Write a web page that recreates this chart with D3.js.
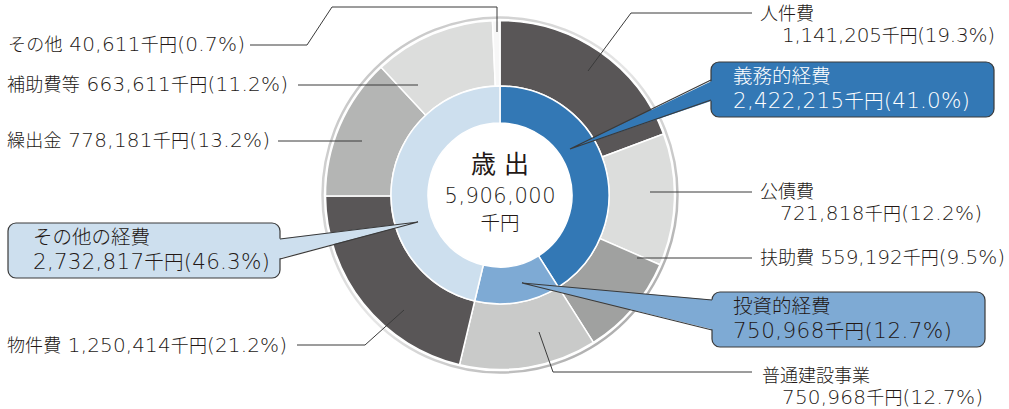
<!DOCTYPE html>
<html><head><meta charset="utf-8">
<script src="https://cdn.jsdelivr.net/npm/d3@7/dist/d3.min.js"></script>
<style>
html,body{margin:0;padding:0;background:#fff;}
svg text{font-family:"Noto Sans CJK JP","Noto Sans",sans-serif;white-space:pre;}
</style></head>
<body><svg id="c" width="1009" height="409"></svg>
<script>
// ---- data ----
const outerNames  = ["人件費","公債費","扶助費","普通建設事業","物件費","繰出金","補助費等","その他"];
const outerValues = [1141205,721818,559192,750968,1250414,778181,663611,40611];
const outerPct    = [19.3,12.2,9.5,12.7,21.2,13.2,11.2,0.7];
const innerNames  = ["義務的経費","投資的経費","その他の経費"];
const innerValues = [2422215,750968,2732817];
const innerPct    = [41.0,12.7,46.3];
const totalLabel  = ["歳 出","5,906,000","千円"];

// ---- styles ----
const outerColors = ["#595657","#dcdddc","#a0a1a0","#c9cac9","#595657","#b4b5b4","#dcdddc","#f7f7f7"];
const innerColors = ["#3378b5","#7eaad4","#cddfee"];
const innerText   = ["#ffffff","#231815","#231815"];
const ink = "#231815";

const svg = d3.select("#c");
const cx = 500, cy = 195;
const g = svg.append("g").attr("transform",`translate(${cx},${cy})`);

const pie = d3.pie().sort(null).value(d=>d);
const outerArc = d3.arc().innerRadius(109).outerRadius(174.5);
const innerArc = d3.arc().innerRadius(72).outerRadius(109);

// outer border ring
const grad = svg.append("defs").append("linearGradient").attr("id","rg")
  .attr("x1","0").attr("y1","0").attr("x2","1").attr("y2","1");
grad.append("stop").attr("offset","0%").attr("stop-color","#bdbdbd");
grad.append("stop").attr("offset","50%").attr("stop-color","#e6e6e6");
grad.append("stop").attr("offset","100%").attr("stop-color","#9a9a9a");
g.append("circle").attr("r",177.5).attr("fill","none").attr("stroke","url(#rg)").attr("stroke-width",2.5);

g.selectAll("path.o").data(pie(outerValues)).join("path").attr("class","o")
  .attr("d",outerArc).attr("fill",(d,i)=>outerColors[i])
  .attr("stroke","#fff").attr("stroke-width",1.5);
g.selectAll("path.i").data(pie(innerValues)).join("path").attr("class","i")
  .attr("d",innerArc).attr("fill",(d,i)=>innerColors[i])
  .attr("stroke","#fff").attr("stroke-width",1.5);
g.append("circle").attr("r",71.5).attr("fill","#fff");

// rich text: CJK runs in Noto Sans CJK JP, numeric runs in a wider light sans
function richText(sel, x, y, str, size, numSize, color, width, anchor, cjkWeight) {
  const t = sel.append("text").attr("x",x).attr("y",y).attr("dy","0.35em").attr("fill",color);
  if (anchor) t.attr("text-anchor",anchor);
  str.match(/[0-9,.()% ]+|[^0-9,.()% ]+/g).forEach(seg=>{
    const lat = /^[0-9,.()% ]+$/.test(seg);
    t.append("tspan")
      .style("font-family", lat ? "'DejaVu Sans'" : "'Noto Sans CJK JP'")
      .style("font-weight", lat ? 200 : (cjkWeight || 300))
      .attr("font-size", lat ? numSize : size).text(seg);
  });
  if (width) t.attr("textLength",width).attr("lengthAdjust","spacing");
  return t;
}

// center text
richText(g, 0, -28, totalLabel[0], 25, 25, ink, null, "middle", 400);
richText(g, 0, 2, totalLabel[1], 21, 21, ink, 111, "middle");
richText(g, 0, 29, totalLabel[2], 19.5, 19.5, ink, null, "middle");

const fmt = d3.format(",");
const valStr = (v,p)=> fmt(v)+"千円("+p.toFixed(1)+"%)";

// ---- label layout (annotation geometry) ----
const outerLayout = {
  "人件費":     {x:760, y:14, x2:782, y2:36, w:213, lines:[[588,71],[631,13],[752,13]]},
  "公債費":     {x:760, y:192, x2:780, y2:214, w:202, lines:[[650,192],[752,192]]},
  "扶助費":     {x:760, y:258, w:245, lines:[[637,258],[752,258]]},
  "普通建設事業": {x:762, y:376, x2:782, y2:398, w:201, lines:[[539,332],[553,372],[752,372]]},
  "物件費":     {x:7, y:346, w:280, lines:[[297,345],[365,345],[404,310]]},
  "繰出金":     {x:7, y:141, w:263, lines:[[278,141],[362,141]]},
  "補助費等":   {x:7, y:85, w:281, lines:[[298,85],[418,85]]},
  "その他":     {x:8, y:45, w:237, lines:[[250,45],[307,45],[332,7],[497,7],[497,32]]}
};
const lineGen = d3.line();
outerNames.forEach((n,i)=>{
  const L = outerLayout[n];
  svg.append("path").attr("d",lineGen(L.lines)).attr("fill","none")
    .attr("stroke","#3a3a3a").attr("stroke-width",1);
  if (L.x2 !== undefined) {
    richText(svg, L.x, L.y, n, 18, 20, ink);
    richText(svg, L.x2, L.y2, valStr(outerValues[i],outerPct[i]), 18, 20, ink, L.w);
  } else {
    richText(svg, L.x, L.y, n+" "+valStr(outerValues[i],outerPct[i]), 18, 20, ink, L.w);
  }
});

const innerLayout = {
  "義務的経費":  {bx:711, by:62, bw:283, bh:55, tx:733, w:237, tip:[570,149], base:[[711,80],[711,100]]},
  "投資的経費":  {bx:712, by:292, bw:273, bh:55, tx:733, w:219, tip:[522,283], base:[[712,300],[712,330]]},
  "その他の経費": {bx:8, by:223, bw:272, bh:55, tx:33, w:237, tip:[418,222], base:[[280,239],[280,259]]}
};
innerNames.forEach((n,i)=>{
  const L = innerLayout[n];
  svg.append("rect").attr("x",L.bx).attr("y",L.by).attr("width",L.bw).attr("height",L.bh)
    .attr("rx",8).attr("fill",innerColors[i]).attr("stroke","#3a3a3a").attr("stroke-width",1.2);
  const dir = L.base[0][0] > L.tip[0] ? 3 : -3;
  const b0 = [L.base[0][0]+dir, L.base[0][1]], b1 = [L.base[1][0]+dir, L.base[1][1]];
  svg.append("path").attr("d",lineGen([b0,L.tip,b1])+"Z").attr("fill",innerColors[i]).attr("stroke","none");
  svg.append("path").attr("d",lineGen([L.base[0],L.tip,L.base[1]])).attr("fill","none")
    .attr("stroke","#3a3a3a").attr("stroke-width",1.2);
  richText(svg, L.tx, L.by+15, n, 19.5, 21.5, innerText[i], null, null, 300);
  richText(svg, L.tx, L.by+40, valStr(innerValues[i],innerPct[i]), 19.5, 21.5, innerText[i], L.w);
});
</script></body></html>
